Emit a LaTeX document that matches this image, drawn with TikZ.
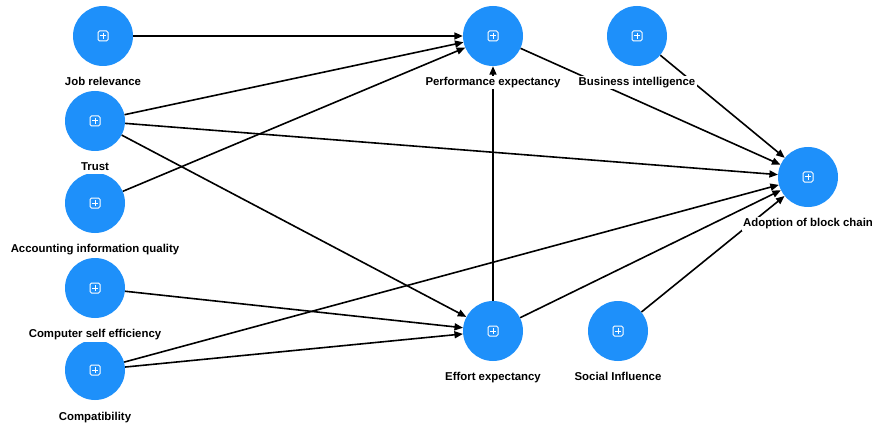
\documentclass[tikz,border=0pt]{standalone}
\usepackage{fontspec}
\setmainfont{Liberation Sans}
\usetikzlibrary{arrows.meta,positioning}
\definecolor{lvblue}{HTML}{1E90FA}
\begin{document}
\begin{tikzpicture}[x=1pt,y=-1pt,
    latent/.style={circle, fill=lvblue, minimum size=60pt, inner sep=0, path picture={
        \begin{scope}[shift={(path picture bounding box.center)}]
        \draw[white, line width=1pt, rounded corners=1.5pt] (-5,-5) rectangle (5,5);
        \draw[white, line width=1pt] (-3,0) -- (3,0) (0,-3) -- (0,3);
        \end{scope}}},
    lbl/.style={fill=white, inner sep=1.5pt, font=\bfseries\fontsize{11.4}{13}\selectfont, text height=8.2pt, text depth=2.4pt},
    link/.style={-{Triangle[length=8.5pt,width=7pt]}, line width=1.6pt}]

      \useasboundingbox (0,0) rectangle (873,425);

      % constructs
      \node[latent] (jr) at (103,36) {};
      \node[latent] (tr) at (95,121) {};
      \node[latent] (aiq) at (95,203) {};
      \node[latent] (cse) at (95,288) {};
      \node[latent] (cmp) at (95,370) {};
      \node[latent] (pe) at (493,36) {};
      \node[latent] (bi) at (637,36) {};
      \node[latent] (ad) at (808,177) {};
      \node[latent] (ee) at (493,331) {};
      \node[latent] (si) at (618,331) {};

      % paths
      \draw[link] (jr) -- (pe);
      \draw[link] (tr) -- (pe);
      \draw[link] (aiq) -- (pe);
      \draw[link] (tr) -- (ad);
      \draw[link] (tr) -- (ee);
      \draw[link] (cse) -- (ee);
      \draw[link] (cmp) -- (ee);
      \draw[link] (cmp) -- (ad);
      \draw[link] (ee) -- (pe);
      \draw[link] (ee) -- (ad);
      \draw[link] (pe) -- (ad);
      \draw[link] (bi) -- (ad);
      \draw[link] (si) -- (ad);

      % labels
      \node[lbl, below=9.5pt of jr] (jr-l) {Job relevance};
      \node[lbl, below=9.5pt of tr] (tr-l) {Trust};
      \node[lbl, below=9.5pt of aiq] (aiq-l) {Accounting information quality};
      \node[lbl, below=9.5pt of cse] (cse-l) {Computer self efficiency};
      \node[lbl, below=10.5pt of cmp] (cmp-l) {Compatibility};
      \node[lbl, below=9.5pt of pe] (pe-l) {Performance expectancy};
      \node[lbl, below=9.5pt of bi] (bi-l) {Business intelligence};
      \node[lbl, below=9.5pt of ad] (ad-l) {Adoption of block chain};
      \node[lbl, below=9.5pt of ee] (ee-l) {Effort expectancy};
      \node[lbl, below=9.5pt of si] (si-l) {Social Influence};
    \end{tikzpicture}
\end{document}
